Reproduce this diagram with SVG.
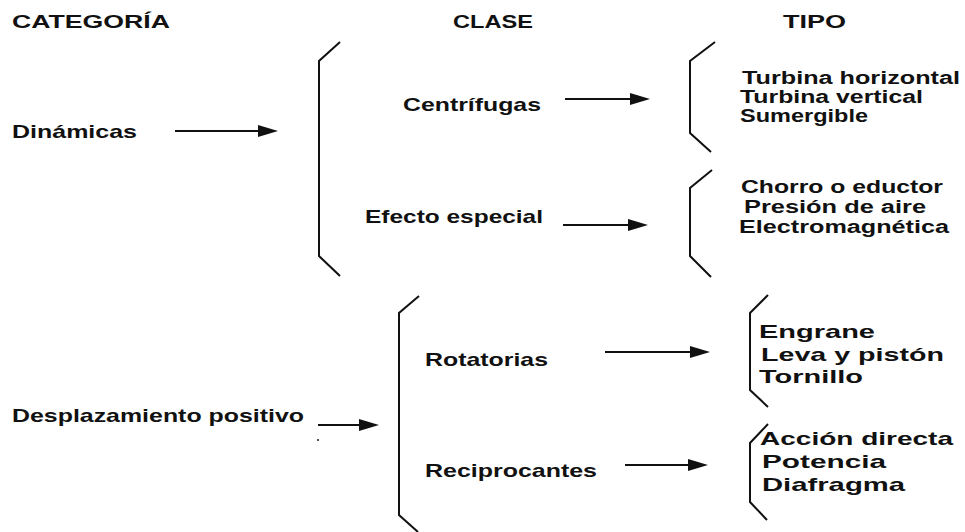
<svg xmlns="http://www.w3.org/2000/svg" width="965" height="532" viewBox="0 0 965 532">
<style>
text{font-family:"Liberation Sans",Arial,sans-serif;font-size:19px;font-weight:bold;fill:#111}
.sm{font-size:18px}
.br{fill:none;stroke:#111;stroke-width:2}
.ln{stroke:#111;stroke-width:2;fill:none}
.hd{fill:#111}
</style>
<rect width="965" height="532" fill="#fff"/>
<g id="headers">
<text x="12" y="28" textLength="158" lengthAdjust="spacingAndGlyphs">CATEGORÍA</text>
<text x="453" y="28" textLength="80" lengthAdjust="spacingAndGlyphs">CLASE</text>
<text x="783" y="28" textLength="63" lengthAdjust="spacingAndGlyphs">TIPO</text>
</g>
<g id="dinamicas"><text x="12" y="138" textLength="125" lengthAdjust="spacingAndGlyphs">Dinámicas</text></g>
<g id="desplazamiento"><text x="12" y="422" textLength="292" lengthAdjust="spacingAndGlyphs">Desplazamiento positivo</text></g>
<g id="clase-dinamicas">
<path class="br" d="M340,42 L319,61 L319,256 L340,276"/>
<g id="centrifugas"><text x="403" y="111" textLength="138" lengthAdjust="spacingAndGlyphs">Centrífugas</text></g>
<g id="efecto"><text x="365" y="223" textLength="178" lengthAdjust="spacingAndGlyphs">Efecto especial</text></g>
</g>
<g id="clase-desplazamiento">
<path class="br" d="M419,296 L399,313 L399,515 L418,532"/>
<g id="rotatorias"><text x="425" y="366" textLength="123" lengthAdjust="spacingAndGlyphs">Rotatorias</text></g>
<g id="reciprocantes"><text x="425" y="477" textLength="172" lengthAdjust="spacingAndGlyphs">Reciprocantes</text></g>
</g>
<g id="tipo-centrifugas">
<path class="br" d="M715,42 L690,61 L690,133 L711,152"/>
<text class="sm" x="742" y="84" textLength="218" lengthAdjust="spacingAndGlyphs">Turbina horizontal</text>
<text class="sm" x="740" y="103" textLength="183" lengthAdjust="spacingAndGlyphs">Turbina vertical</text>
<text class="sm" x="740" y="122" textLength="128" lengthAdjust="spacingAndGlyphs">Sumergible</text>
</g>
<g id="tipo-efecto">
<path class="br" d="M712,170 L690,188 L690,256 L711,277"/>
<text class="sm" x="741" y="193" textLength="202" lengthAdjust="spacingAndGlyphs">Chorro o eductor</text>
<text class="sm" x="744" y="213" textLength="182" lengthAdjust="spacingAndGlyphs">Presión de aire</text>
<text class="sm" x="739" y="233" textLength="210" lengthAdjust="spacingAndGlyphs">Electromagnética</text>
</g>
<g id="tipo-rotatorias">
<path class="br" d="M768,295 L750,313 L750,390 L768,407"/>
<text x="759" y="338" textLength="116" lengthAdjust="spacingAndGlyphs">Engrane</text>
<text x="761" y="361" textLength="183" lengthAdjust="spacingAndGlyphs">Leva y pistón</text>
<text x="759" y="383" textLength="104" lengthAdjust="spacingAndGlyphs">Tornillo</text>
</g>
<g id="tipo-reciprocantes">
<path class="br" d="M768,424 L750,443 L750,502 L767,520"/>
<text x="760" y="445" textLength="193" lengthAdjust="spacingAndGlyphs">Acción directa</text>
<text x="762" y="468" textLength="124" lengthAdjust="spacingAndGlyphs">Potencia</text>
<text x="762" y="491" textLength="143" lengthAdjust="spacingAndGlyphs">Diafragma</text>
</g>
<g id="connectors">
<path class="ln" d="M175,131 H260"/>
<path class="hd" d="M258,125 L278,131 L258,137 Z"/>
<path class="ln" d="M565,99 H632"/>
<path class="hd" d="M630,93 L650,99 L630,105 Z"/>
<path class="ln" d="M563,225 H630"/>
<path class="hd" d="M628,219 L648,225 L628,231 Z"/>
<path class="ln" d="M318,425 H361"/>
<path class="hd" d="M359,419 L379,425 L359,431 Z"/>
<path class="ln" d="M605,352 H692"/>
<path class="hd" d="M690,346 L710,352 L690,358 Z"/>
<path class="ln" d="M625,465 H690"/>
<path class="hd" d="M688,459 L708,465 L688,471 Z"/>
<circle cx="318" cy="440" r="1" fill="#111"/>
</g>
</svg>
